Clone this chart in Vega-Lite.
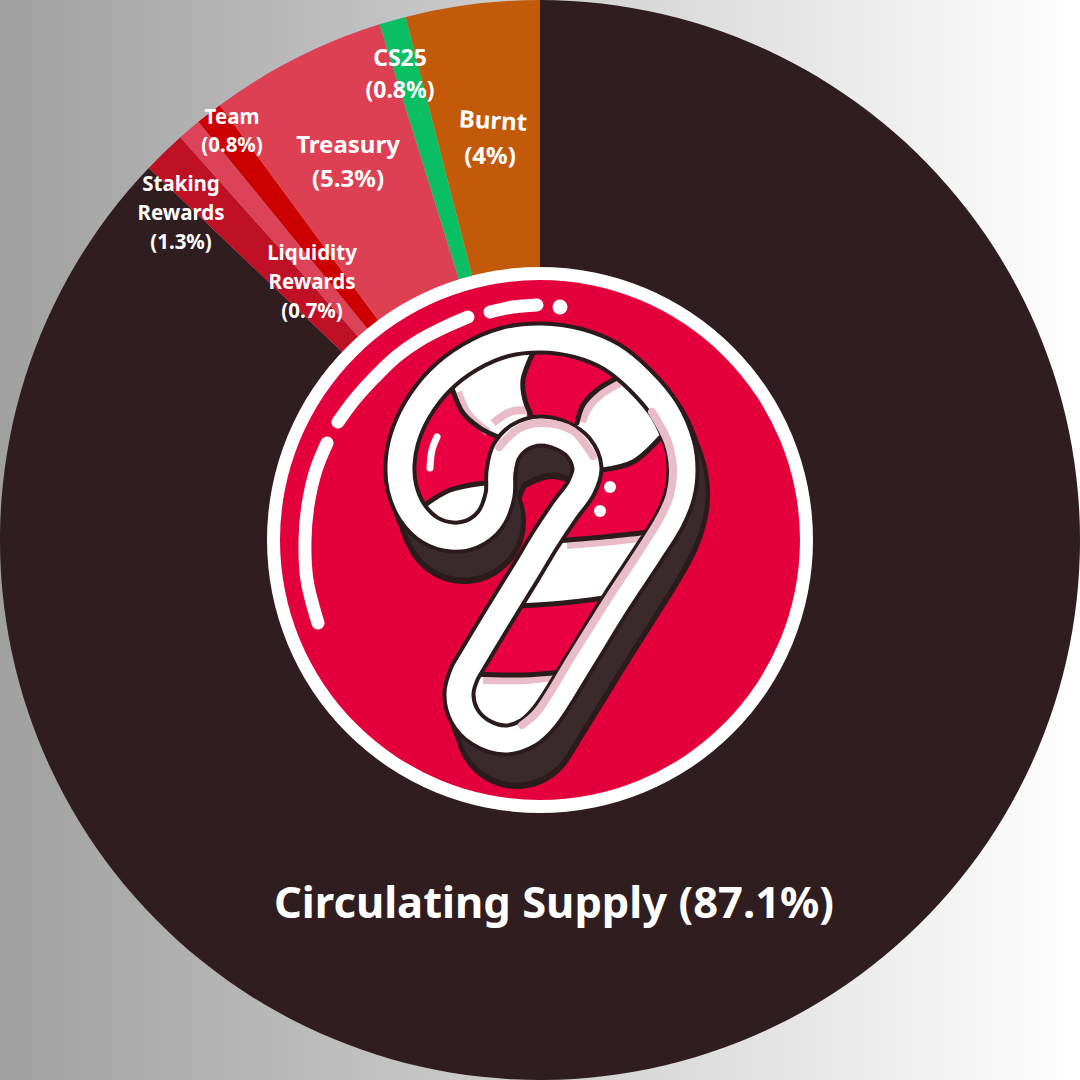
{
"$schema":"https://vega.github.io/schema/vega-lite/v6.json",
"width":1080,"height":1080,"padding":0,
"autosize":{"type":"fit","contains":"padding"},
"background":"#ffffff",
"view":{"stroke":null},
"datasets":{
"canvas":[{"x":0,"x2":1080,"y":0,"y2":1080}],
"slices":[
{"name":"Circulating Supply","share":87.1,"rank":1},
{"name":"Staking Rewards","share":1.3,"rank":2},
{"name":"Liquidity Rewards","share":0.7,"rank":3},
{"name":"Team","share":0.8,"rank":4},
{"name":"Treasury","share":5.3,"rank":5},
{"name":"CS25","share":0.8,"rank":6},
{"name":"Burnt","share":4,"rank":7}],
"centre":[{"x":540,"y":540}],
"dashes":[
{"p":"a","i":1,"x":468,"y":317},{"p":"a","i":2,"x":445,"y":327},{"p":"a","i":3,"x":420,"y":340},{"p":"a","i":4,"x":397,"y":356},{"p":"a","i":5,"x":375,"y":377},{"p":"a","i":6,"x":355,"y":399},{"p":"a","i":7,"x":338,"y":422},
{"p":"b","i":1,"x":490,"y":312},{"p":"b","i":2,"x":513,"y":307},{"p":"b","i":3,"x":537,"y":305},
{"p":"c","i":1,"x":327,"y":443},{"p":"c","i":2,"x":316,"y":470},{"p":"c","i":3,"x":308,"y":505},{"p":"c","i":4,"x":305,"y":540},{"p":"c","i":5,"x":307,"y":580},{"p":"c","i":6,"x":318,"y":623}],
"ringdot":[{"x":560,"y":307}],
"spine":[{"i":1,"x":505,"y":695},{"i":2,"x":534,"y":648},{"i":3,"x":563,"y":601},{"i":4,"x":592,"y":555},{"i":5,"x":614,"y":520},{"i":6,"x":630,"y":490},{"i":7,"x":636,"y":465},{"i":8,"x":632,"y":440},{"i":9,"x":617,"y":415},{"i":10,"x":589,"y":397},{"i":11,"x":541,"y":385},{"i":12,"x":493,"y":397},{"i":13,"x":465,"y":418},{"i":14,"x":450,"y":450},{"i":15,"x":446,"y":475},{"i":16,"x":452,"y":490}],
"band":[{"i":1,"x":465,"y":672},{"i":2,"x":495,"y":622},{"i":3,"x":527,"y":570},{"i":4,"x":545,"y":540},{"i":5,"x":565,"y":510},{"i":6,"x":581,"y":488},{"i":7,"x":587,"y":468},{"i":8,"x":578,"y":447},{"i":9,"x":562,"y":436},{"i":10,"x":541,"y":431},{"i":11,"x":520,"y":437},{"i":12,"x":506,"y":452},{"i":13,"x":501,"y":472},{"i":14,"x":500,"y":495},{"i":15,"x":490,"y":520},{"i":16,"x":472,"y":534},{"i":17,"x":452,"y":537},{"i":18,"x":430,"y":530},{"i":19,"x":412,"y":512},{"i":20,"x":402,"y":488},{"i":21,"x":400,"y":465},{"i":22,"x":404,"y":440},{"i":23,"x":417,"y":410},{"i":24,"x":440,"y":380},{"i":25,"x":470,"y":357},{"i":26,"x":505,"y":342},{"i":27,"x":541,"y":338},{"i":28,"x":578,"y":343},{"i":29,"x":612,"y":357},{"i":30,"x":640,"y":380},{"i":31,"x":665,"y":410},{"i":32,"x":680,"y":445},{"i":33,"x":683,"y":470},{"i":34,"x":680,"y":495},{"i":35,"x":670,"y":520},{"i":36,"x":650,"y":552},{"i":37,"x":615,"y":605},{"i":38,"x":580,"y":662},{"i":39,"x":545,"y":717},{"i":40,"x":528,"y":733},{"i":41,"x":505,"y":740},{"i":42,"x":480,"y":732},{"i":43,"x":464,"y":715},{"i":44,"x":459,"y":693},{"i":45,"x":465,"y":672}],
"whites":[
{"s":"mid","x":515,"y":606,"y2":606},{"s":"mid","x":555,"y":541,"y2":603},{"s":"mid","x":612,"y":538,"y2":597},{"s":"mid","x":650,"y":534,"y2":534},
{"s":"end","x":470,"y":675,"y2":712},{"s":"end","x":490,"y":675,"y2":735},{"s":"end","x":510,"y":675,"y2":742},{"s":"end","x":530,"y":675,"y2":730},{"s":"end","x":545,"y":675,"y2":715},{"s":"end","x":566,"y":672,"y2":672},
{"s":"hook","x":422,"y":507,"y2":507},{"s":"hook","x":450,"y":490,"y2":530},{"s":"hook","x":470,"y":485,"y2":530},{"s":"hook","x":490,"y":483,"y2":510},{"s":"hook","x":500,"y":483,"y2":483},
{"s":"a","x":452,"y":385,"y2":388},{"s":"a","x":470,"y":368,"y2":422},{"s":"a","x":490,"y":358,"y2":432},{"s":"a","x":498,"y":355,"y2":437},{"s":"a","x":515,"y":352,"y2":430},{"s":"a","x":533,"y":350,"y2":422},
{"s":"d","x":577,"y":423,"y2":445},{"s":"d","x":583,"y":405,"y2":465},{"s":"d","x":597,"y":390,"y2":470},{"s":"d","x":617,"y":378,"y2":468},{"s":"d","x":633,"y":375,"y2":462},{"s":"d","x":650,"y":392,"y2":450},{"s":"d","x":660,"y":405,"y2":438},{"s":"d","x":672,"y":422,"y2":425}],
"patch":[{"s":"b","x":523,"y":380,"y2":400},{"s":"b","x":528,"y":358,"y2":420},{"s":"b","x":536,"y":345,"y2":425}],
"paleIn":[
{"p":"a","i":1,"x":458,"y":392},{"p":"a","i":2,"x":468,"y":414},{"p":"a","i":3,"x":488,"y":432},
{"p":"b","i":1,"x":493,"y":423},{"p":"b","i":2,"x":510,"y":412},{"p":"b","i":3,"x":527,"y":410},
{"p":"c","i":1,"x":483,"y":680},{"p":"c","i":2,"x":523,"y":680},{"p":"c","i":3,"x":555,"y":677},
{"p":"d","i":1,"x":567,"y":545},{"p":"d","i":2,"x":603,"y":542},{"p":"d","i":3,"x":640,"y":538},
{"p":"e","i":1,"x":582,"y":422},{"p":"e","i":2,"x":588,"y":408},{"p":"e","i":3,"x":600,"y":395},{"p":"e","i":4,"x":620,"y":383}],
"seps":[
{"p":"s1","i":1,"x":474,"y":674},{"p":"s1","i":2,"x":523,"y":675},{"p":"s1","i":3,"x":562,"y":672},
{"p":"s2","i":1,"x":518,"y":606},{"p":"s2","i":2,"x":563,"y":603},{"p":"s2","i":3,"x":612,"y":597},
{"p":"s3","i":1,"x":555,"y":541},{"p":"s3","i":2,"x":603,"y":537},{"p":"s3","i":3,"x":650,"y":532},
{"p":"s4","i":1,"x":602,"y":470},{"p":"s4","i":2,"x":633,"y":462},{"p":"s4","i":3,"x":660,"y":438},
{"p":"s5","i":1,"x":577,"y":423},{"p":"s5","i":2,"x":583,"y":405},{"p":"s5","i":3,"x":597,"y":390},{"p":"s5","i":4,"x":617,"y":378},
{"p":"s6","i":1,"x":533,"y":353},{"p":"s6","i":2,"x":523,"y":380},{"p":"s6","i":3,"x":525,"y":400},{"p":"s6","i":4,"x":532,"y":417},
{"p":"s7","i":1,"x":452,"y":388},{"p":"s7","i":2,"x":463,"y":413},{"p":"s7","i":3,"x":480,"y":428},{"p":"s7","i":4,"x":498,"y":437},
{"p":"s8","i":1,"x":425,"y":505},{"p":"s8","i":2,"x":450,"y":490},{"p":"s8","i":3,"x":485,"y":483}],
"paleBand":[
{"p":"o","i":1,"x":652,"y":412},{"p":"o","i":2,"x":668,"y":442},{"p":"o","i":3,"x":673,"y":470},{"p":"o","i":4,"x":670,"y":495},{"p":"o","i":5,"x":660,"y":518},{"p":"o","i":6,"x":606,"y":602},{"p":"o","i":7,"x":571,"y":658},{"p":"o","i":8,"x":537,"y":712},{"p":"o","i":9,"x":522,"y":725},
{"p":"n","i":1,"x":499,"y":447},{"p":"n","i":2,"x":520,"y":428},{"p":"n","i":3,"x":543,"y":423},{"p":"n","i":4,"x":573,"y":431},{"p":"n","i":5,"x":593,"y":456}],
"shine":[{"i":1,"x":437,"y":437},{"i":2,"x":432,"y":450},{"i":3,"x":430,"y":468}],
"dots":[{"x":610,"y":487},{"x":600,"y":511}],
"labels":[
{"t":"Circulating Supply (87.1%)","x":554,"y":905,"g":"big"},
{"t":"(4%)","x":490,"y":157,"g":"m"},
{"t":"Treasury","x":348,"y":146,"g":"m"},
{"t":"(5.3%)","x":348,"y":180,"g":"m"},
{"t":"CS25","x":400,"y":59,"g":"c"},
{"t":"(0.8%)","x":400,"y":91,"g":"c"},
{"t":"Team","x":232,"y":118,"g":"s"},
{"t":"(0.8%)","x":232,"y":146,"g":"s"},
{"t":"Staking","x":181,"y":185,"g":"s"},
{"t":"Rewards","x":181,"y":214,"g":"s"},
{"t":"(1.3%)","x":181,"y":243,"g":"s"},
{"t":"Liquidity","x":312,"y":254,"g":"s"},
{"t":"Rewards","x":312,"y":283,"g":"s"},
{"t":"(0.7%)","x":312,"y":312,"g":"s"}],
"burnt":[{"t":"Burnt","x":493,"y":122}]
},
"layer":[
{"data":{"name":"canvas"},
 "mark":{"type":"rect","color":{"x1":0,"y1":0,"x2":1,"y2":0,"gradient":"linear","stops":[{"offset":0,"color":"#a0a0a0"},{"offset":1,"color":"#ffffff"}]}},
 "encoding":{"x":{"field":"x","type":"quantitative","scale":{"domain":[0,1080],"nice":false},"axis":null},"x2":{"field":"x2"},"y":{"field":"y","type":"quantitative","scale":{"domain":[1080,0],"nice":false},"axis":null},"y2":{"field":"y2"}}},
{"data":{"name":"slices"},
 "mark":{"type":"arc","outerRadius":540,"innerRadius":0},
 "encoding":{"theta":{"field":"share","type":"quantitative","stack":true},"order":{"field":"rank","type":"quantitative"},
  "color":{"field":"name","type":"nominal","legend":null,"scale":{"domain":["Circulating Supply","Staking Rewards","Liquidity Rewards","Team","Treasury","CS25","Burnt"],"range":["#2f1d1f","#bf1026","#dd4358","#cc0000","#dd3f53","#0abf63","#c25a0a"]}}}},
{"data":{"name":"centre"},"mark":{"type":"point","filled":true,"opacity":1,"color":"#ffffff","size":298116,"strokeWidth":0},
 "encoding":{"x":{"field":"x","type":"quantitative","axis":null},"y":{"field":"y","type":"quantitative","axis":null}}},
{"data":{"name":"centre"},"mark":{"type":"point","filled":true,"opacity":1,"color":"#e4003a","size":270400,"strokeWidth":0},
 "encoding":{"x":{"field":"x","type":"quantitative","axis":null},"y":{"field":"y","type":"quantitative","axis":null}}},
{"data":{"name":"dashes"},"mark":{"type":"line","color":"#ffffff","strokeWidth":13,"strokeCap":"round","interpolate":"catmull-rom"},
 "encoding":{"x":{"field":"x","type":"quantitative","axis":null},"y":{"field":"y","type":"quantitative","axis":null},"detail":{"field":"p"},"order":{"field":"i","type":"quantitative"}}},
{"data":{"name":"ringdot"},"mark":{"type":"point","filled":true,"opacity":1,"color":"#ffffff","size":225,"strokeWidth":0},
 "encoding":{"x":{"field":"x","type":"quantitative","axis":null},"y":{"field":"y","type":"quantitative","axis":null}}},
{"data":{"name":"spine"},"mark":{"type":"line","color":"#2b1b1d","strokeWidth":124,"strokeCap":"round","strokeJoin":"round","interpolate":"catmull-rom","xOffset":12,"yOffset":32},
 "encoding":{"x":{"field":"x","type":"quantitative","axis":null},"y":{"field":"y","type":"quantitative","axis":null},"order":{"field":"i","type":"quantitative"}}},
{"data":{"name":"spine"},"mark":{"type":"line","color":"#2b1b1d","strokeWidth":124,"strokeCap":"round","strokeJoin":"round","interpolate":"catmull-rom","xOffset":6,"yOffset":16},
 "encoding":{"x":{"field":"x","type":"quantitative","axis":null},"y":{"field":"y","type":"quantitative","axis":null},"order":{"field":"i","type":"quantitative"}}},
{"data":{"name":"spine"},"mark":{"type":"line","color":"#3a2a2c","strokeWidth":115,"strokeCap":"round","strokeJoin":"round","interpolate":"catmull-rom","xOffset":12,"yOffset":30},
 "encoding":{"x":{"field":"x","type":"quantitative","axis":null},"y":{"field":"y","type":"quantitative","axis":null},"order":{"field":"i","type":"quantitative"}}},
{"data":{"name":"spine"},"mark":{"type":"line","color":"#3a2a2c","strokeWidth":115,"strokeCap":"round","strokeJoin":"round","interpolate":"catmull-rom","xOffset":6,"yOffset":16},
 "encoding":{"x":{"field":"x","type":"quantitative","axis":null},"y":{"field":"y","type":"quantitative","axis":null},"order":{"field":"i","type":"quantitative"}}},
{"data":{"name":"spine"},"mark":{"type":"line","color":"#ea0040","strokeWidth":90,"strokeCap":"round","strokeJoin":"round","interpolate":"catmull-rom"},
 "encoding":{"x":{"field":"x","type":"quantitative","axis":null},"y":{"field":"y","type":"quantitative","axis":null},"order":{"field":"i","type":"quantitative"}}},
{"data":{"name":"whites"},"mark":{"type":"area","color":"#ffffff","opacity":1,"interpolate":"linear"},
 "encoding":{"x":{"field":"x","type":"quantitative","axis":null},"y":{"field":"y","type":"quantitative","axis":null,"stack":null},"y2":{"field":"y2"},"detail":{"field":"s"}}},
{"data":{"name":"patch"},"mark":{"type":"area","color":"#ea0040","opacity":1,"interpolate":"linear"},
 "encoding":{"x":{"field":"x","type":"quantitative","axis":null},"y":{"field":"y","type":"quantitative","axis":null,"stack":null},"y2":{"field":"y2"},"detail":{"field":"s"}}},
{"data":{"name":"paleIn"},"mark":{"type":"line","color":"#e8bcc9","strokeWidth":8,"strokeCap":"butt","interpolate":"catmull-rom"},
 "encoding":{"x":{"field":"x","type":"quantitative","axis":null},"y":{"field":"y","type":"quantitative","axis":null},"detail":{"field":"p"},"order":{"field":"i","type":"quantitative"}}},
{"data":{"name":"seps"},"mark":{"type":"line","color":"#2b1b1d","strokeWidth":5,"strokeCap":"round","interpolate":"catmull-rom"},
 "encoding":{"x":{"field":"x","type":"quantitative","axis":null},"y":{"field":"y","type":"quantitative","axis":null},"detail":{"field":"p"},"order":{"field":"i","type":"quantitative"}}},
{"data":{"name":"band"},"mark":{"type":"line","color":"#2b1b1d","strokeWidth":33,"strokeCap":"round","strokeJoin":"round","interpolate":"catmull-rom"},
 "encoding":{"x":{"field":"x","type":"quantitative","axis":null},"y":{"field":"y","type":"quantitative","axis":null},"order":{"field":"i","type":"quantitative"}}},
{"data":{"name":"band"},"mark":{"type":"line","color":"#ffffff","strokeWidth":25,"strokeCap":"round","strokeJoin":"round","interpolate":"catmull-rom"},
 "encoding":{"x":{"field":"x","type":"quantitative","axis":null},"y":{"field":"y","type":"quantitative","axis":null},"order":{"field":"i","type":"quantitative"}}},
{"data":{"name":"paleBand"},"mark":{"type":"line","color":"#e8bcc9","strokeWidth":8,"strokeCap":"round","interpolate":"catmull-rom"},
 "encoding":{"x":{"field":"x","type":"quantitative","axis":null},"y":{"field":"y","type":"quantitative","axis":null},"detail":{"field":"p"},"order":{"field":"i","type":"quantitative"}}},
{"data":{"name":"shine"},"mark":{"type":"line","color":"#ffffff","strokeWidth":7,"strokeCap":"round","interpolate":"catmull-rom"},
 "encoding":{"x":{"field":"x","type":"quantitative","axis":null},"y":{"field":"y","type":"quantitative","axis":null},"order":{"field":"i","type":"quantitative"}}},
{"data":{"name":"dots"},"mark":{"type":"point","filled":true,"opacity":1,"color":"#ffffff","size":144,"strokeWidth":0},
 "encoding":{"x":{"field":"x","type":"quantitative","axis":null},"y":{"field":"y","type":"quantitative","axis":null}}},
{"data":{"name":"labels"},"transform":[{"filter":"datum.g==='big'"}],"mark":{"type":"text","font":"Noto Sans","fontWeight":700,"fontSize":43.5,"color":"#ffffff","align":"center","baseline":"middle"},
 "encoding":{"x":{"field":"x","type":"quantitative","axis":null},"y":{"field":"y","type":"quantitative","axis":null},"text":{"field":"t"}}},
{"data":{"name":"labels"},"transform":[{"filter":"datum.g==='m'"}],"mark":{"type":"text","font":"Noto Sans","fontWeight":700,"fontSize":24,"color":"#ffffff","align":"center","baseline":"middle"},
 "encoding":{"x":{"field":"x","type":"quantitative","axis":null},"y":{"field":"y","type":"quantitative","axis":null},"text":{"field":"t"}}},
{"data":{"name":"burnt"},"mark":{"type":"text","font":"Noto Sans","fontWeight":700,"fontSize":24,"color":"#ffffff","align":"center","baseline":"middle","angle":3},
 "encoding":{"x":{"field":"x","type":"quantitative","axis":null},"y":{"field":"y","type":"quantitative","axis":null},"text":{"field":"t"}}},
{"data":{"name":"labels"},"transform":[{"filter":"datum.g==='c'"}],"mark":{"type":"text","font":"Noto Sans","fontWeight":700,"fontSize":23,"color":"#ffffff","align":"center","baseline":"middle"},
 "encoding":{"x":{"field":"x","type":"quantitative","axis":null},"y":{"field":"y","type":"quantitative","axis":null},"text":{"field":"t"}}},
{"data":{"name":"labels"},"transform":[{"filter":"datum.g==='s'"}],"mark":{"type":"text","font":"Noto Sans","fontWeight":700,"fontSize":20.5,"color":"#ffffff","align":"center","baseline":"middle"},
 "encoding":{"x":{"field":"x","type":"quantitative","axis":null},"y":{"field":"y","type":"quantitative","axis":null},"text":{"field":"t"}}}
]
}
